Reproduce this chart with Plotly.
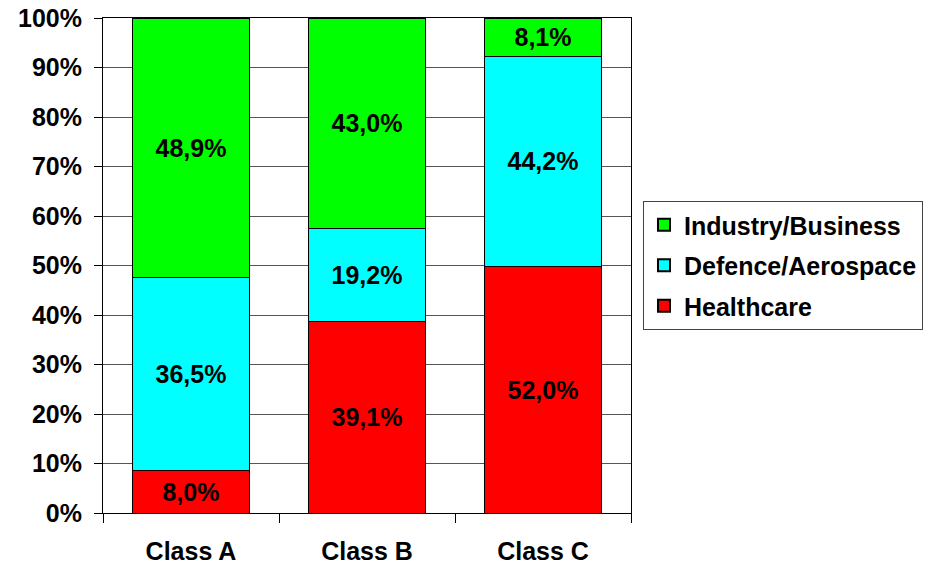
import plotly.graph_objects as go

categories = ["Class A", "Class B", "Class C"]
series_names = ["Healthcare", "Defence/Aerospace", "Industry/Business"]
legend_ranks = [3, 2, 1]
healthcare = [8.0, 39.1, 52.0]
defence = [36.5, 19.2, 44.2]
industry = [48.9, 43.0, 8.1]
colors = ["#FF0000", "#00FFFF", "#00FF00"]
y_ticks = [0, 10, 20, 30, 40, 50, 60, 70, 80, 90, 100]
y_tick_labels = [f"{v}%" for v in y_ticks]

FONT = "Liberation Sans, Arial, sans-serif"
FS = 25

def fmt(v):
    return f"{v:.1f}".replace(".", ",") + "%"

fig = go.Figure()
for name, vals, col, rk in zip(series_names, [healthcare, defence, industry], colors, legend_ranks):
    fig.add_trace(go.Bar(
        x=categories, y=vals, name=name, legendgroup=name, legendrank=rk,
        marker=dict(color=col, line=dict(color="#000000", width=1)),
        text=[fmt(v) for v in vals],
        textposition="inside", insidetextanchor="middle",
        textfont=dict(family=FONT, size=FS, color="#000000", weight="bold"),
        hoverinfo="skip",
    ))

fig.update_layout(
    barmode="stack", barnorm="percent", bargap=0.34,
    width=925, height=567,
    margin=dict(l=103, r=294, t=18, b=54, autoexpand=False),
    paper_bgcolor="white", plot_bgcolor="white",
    font=dict(family=FONT, size=FS, color="#000000", weight="bold"),
    uniformtext=dict(minsize=10, mode="show"),
    legend=dict(
        x=1.0 + 12 / 528, y=0.5, xanchor="left", yanchor="middle",
        traceorder="grouped", tracegroupgap=5,
        bordercolor="#444444", borderwidth=1, bgcolor="white",
        font=dict(family=FONT, size=FS, color="#000000", weight="bold"),
        itemsizing="constant",
    ),
    showlegend=True,
)
fig.update_xaxes(
    showline=True, linecolor="#000000", linewidth=1, mirror=True,
    ticks="outside", tickson="boundaries", ticklen=9, tickcolor="#000000",
    ticklabelstandoff=16, showgrid=False, ticklabeloverflow="allow",
    tickfont=dict(family=FONT, size=FS, color="#000000", weight="bold"),
)
fig.update_yaxes(
    range=[0, 100], tickvals=y_ticks, ticktext=y_tick_labels,
    showline=True, linecolor="#000000", linewidth=1, mirror=True,
    ticks="outside", ticklen=8, tickcolor="#000000",
    showgrid=True, gridcolor="#555555", gridwidth=1,
    ticklabelstandoff=7, zeroline=False, ticklabeloverflow="allow",
    tickfont=dict(family=FONT, size=FS, color="#000000", weight="bold"),
)

fig.write_html(
    "out.html",
    config={"displayModeBar": False},
    post_script="document.body.style.margin='0';document.body.style.overflow='hidden';",
)
